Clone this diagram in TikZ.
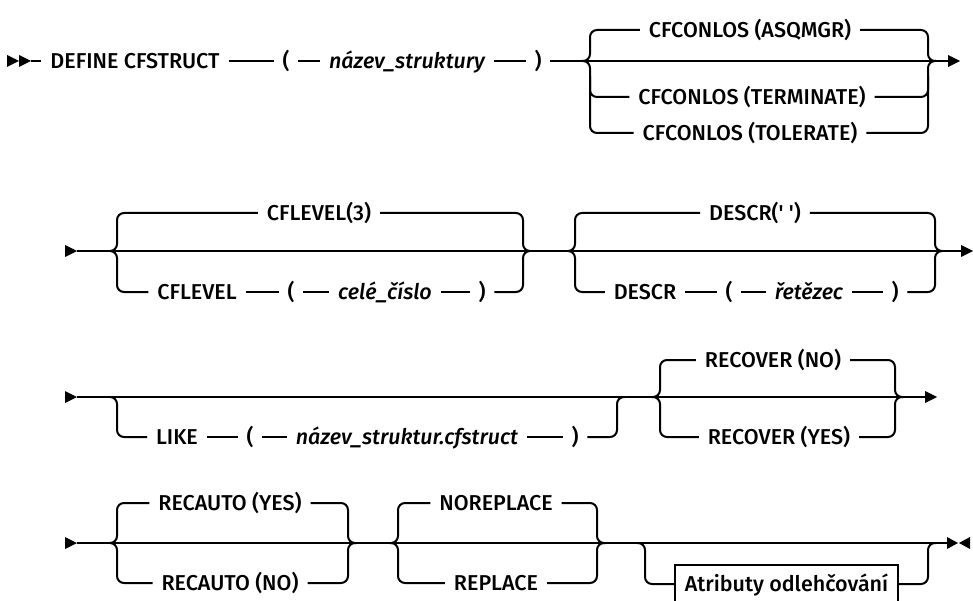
\documentclass[tikz,border=0pt]{standalone}
\usepackage{fontspec}
\setmainfont{Fira Sans}[Ligatures=TeXOff, UprightFont={* Medium}, ItalicFont={* Medium Italic}]
\begin{document}
\begin{tikzpicture}[x=1pt,y=-1pt,
  rr/.style={line width=2pt},
  brc/.style={line width=2pt, rounded corners=7pt},
  tok/.style={inner sep=0pt, outer xsep=9pt, text height=14.8pt, text depth=0pt, font=\fontsize{21.5}{25}\selectfont},
  var/.style={tok, font=\fontsize{21.5}{25}\selectfont\itshape},
  boxn/.style={draw, line width=2pt, inner sep=0pt, outer sep=0pt, text height=14.8pt, text depth=0pt, minimum width=223pt, minimum height=38pt, font=\fontsize{21.5}{25}\selectfont},
]
\useasboundingbox (0,0) rectangle (973,601);

% ---------------- Row 1 ----------------
\coordinate (st1) at (7,61);
\coordinate (st1e) at (31,61);
\fill (st1) ++(0,-6) -- ++(12,6) -- ++(-12,6) -- cycle;
\fill (st1) ++(12,-6) -- ++(12,6) -- ++(-12,6) -- cycle;
\node[tok] (def) at (135,61) {DEFINE CFSTRUCT};
\node[tok] (lp1) at (286,61) {(};
\node[var] (nm1) at (407,61) {název\_struktury};
\node[tok] (rp1) at (538,61) {)};
\node[tok] (a1) at (750,30) {CFCONLOS (ASQMGR)};
\node[tok] (a2) at (752,97) {CFCONLOS (TERMINATE)};
\node[tok] (a3) at (750,133) {CFCONLOS (TOLERATE)};
\coordinate (s1) at (582,61);
\coordinate (v1L) at (590,61);
\coordinate (v1R) at (928,61);
\coordinate (m1) at (936,61);
\coordinate (e1) at (948,61);
\draw[rr] (st1e) -- (def.west) (def.east) -- (lp1.west) (lp1.east) -- (nm1.west)
  (nm1.east) -- (rp1.west) (rp1.east) -- (e1);
\fill (e1) ++(0,-6) -- ++(12,6) -- ++(-12,6) -- cycle;
\draw[brc] (s1) -| (v1L |- a1) -- (a1.west);
\draw[brc] (a1.east) -| (v1R) -- (m1);
\draw[brc] (s1) -| (v1L |- a3) -- (a3.west);
\draw[brc] (a3.east) -| (v1R) -- (m1);
\draw[brc] ([yshift=-15pt]v1L) |- (a2.west);
\draw[brc] (a2.east) -| ([yshift=-15pt]v1R);

% ---------------- Row 2 ----------------
\coordinate (st2) at (65,251);
\coordinate (st2e) at (77,251);
\coordinate (e2) at (961,251);
\fill (st2) ++(0,-6) -- ++(12,6) -- ++(-12,6) -- cycle;
\draw[rr] (st2e) -- (e2);
\fill (e2) ++(0,-6) -- ++(12,6) -- ++(-12,6) -- cycle;
% group A
\coordinate (s2a) at (110,251);
\coordinate (v2aL) at (117,251);
\coordinate (v2aR) at (523,251);
\coordinate (m2a) at (530,251);
\node[tok] (b1) at (319,213) {CFLEVEL(3)};
\node[tok] (c1) at (197,292) {CFLEVEL};
\node[tok] (c2) at (291,292) {(};
\node[var] (c3) at (385,292) {celé\_číslo};
\node[tok] (c4) at (482,292) {)};
\draw[brc] (s2a) -| (v2aL |- b1) -- (b1.west);
\draw[brc] (b1.east) -| (v2aR) -- (m2a);
\draw[brc] (s2a) -| (v2aL |- c1) -- (c1.west);
\draw[rr] (c1.east) -- (c2.west) (c2.east) -- (c3.west) (c3.east) -- (c4.west);
\draw[brc] (c4.east) -| (v2aR) -- (m2a);
% group B
\coordinate (s2b) at (568,251);
\coordinate (v2bL) at (575,251);
\coordinate (v2bR) at (935,251);
\coordinate (m2b) at (942,251);
\node[tok] (d1) at (755,213) {DESCR(' ')};
\node[tok] (dd1) at (645,292) {DESCR};
\node[tok] (dd2) at (729,292) {(};
\node[var] (dd3) at (809,292) {řetězec};
\node[tok] (dd4) at (895,292) {)};
\draw[brc] (s2b) -| (v2bL |- d1) -- (d1.west);
\draw[brc] (d1.east) -| (v2bR) -- (m2b);
\draw[brc] (s2b) -| (v2bL |- dd1) -- (dd1.west);
\draw[rr] (dd1.east) -- (dd2.west) (dd2.east) -- (dd3.west) (dd3.east) -- (dd4.west);
\draw[brc] (dd4.east) -| (v2bR) -- (m2b);

% ---------------- Row 3 ----------------
\coordinate (st3) at (65,397);
\coordinate (st3e) at (77,397);
\coordinate (e3) at (925,397);
\fill (st3) ++(0,-6) -- ++(12,6) -- ++(-12,6) -- cycle;
\draw[rr] (st3e) -- (e3);
\fill (e3) ++(0,-6) -- ++(12,6) -- ++(-12,6) -- cycle;
% optional LIKE
\coordinate (s3a) at (110,397);
\coordinate (v3aL) at (117,397);
\coordinate (v3aR) at (617,397);
\coordinate (m3a) at (625,397);
\node[tok] (f1) at (177,437) {LIKE};
\node[tok] (f2) at (250,437) {(};
\node[var] (f3) at (407,437) {název\_struktur.cfstruct};
\node[tok] (f4) at (575,437) {)};
\draw[brc] (s3a) -| (v3aL |- f1) -- (f1.west);
\draw[rr] (f1.east) -- (f2.west) (f2.east) -- (f3.west) (f3.east) -- (f4.west);
\draw[brc] (f4.east) -| (v3aR) -- (m3a);
% RECOVER
\coordinate (s3b) at (652,397);
\coordinate (v3bL) at (660,397);
\coordinate (v3bR) at (895,397);
\coordinate (m3b) at (903,397);
\node[tok] (g1) at (773,360) {RECOVER (NO)};
\node[tok] (g2) at (779,437) {RECOVER (YES)};
\draw[brc] (s3b) -| (v3bL |- g1) -- (g1.west);
\draw[brc] (g1.east) -| (v3bR) -- (m3b);
\draw[brc] (s3b) -| (v3bL |- g2) -- (g2.west);
\draw[brc] (g2.east) -| (v3bR) -- (m3b);

% ---------------- Row 4 ----------------
\coordinate (st4) at (65,543);
\coordinate (st4e) at (77,543);
\coordinate (e4) at (947,543);
\fill (st4) ++(0,-6) -- ++(12,6) -- ++(-12,6) -- cycle;
\draw[rr] (st4e) -- (e4);
\fill (e4) ++(0,-6) -- ++(11,6) -- ++(-11,6) -- cycle;
\fill (e4) ++(23,-6) -- ++(-11,6) -- ++(11,6) -- cycle;
% RECAUTO
\coordinate (s4a) at (110,543);
\coordinate (v4aL) at (117,543);
\coordinate (v4aR) at (348,543);
\coordinate (m4a) at (356,543);
\node[tok] (h1) at (230,503) {RECAUTO (YES)};
\node[tok] (h2) at (230,583) {RECAUTO (NO)};
\draw[brc] (s4a) -| (v4aL |- h1) -- (h1.west);
\draw[brc] (h1.east) -| (v4aR) -- (m4a);
\draw[brc] (s4a) -| (v4aL |- h2) -- (h2.west);
\draw[brc] (h2.east) -| (v4aR) -- (m4a);
% REPLACE
\coordinate (s4b) at (390,543);
\coordinate (v4bL) at (398,543);
\coordinate (v4bR) at (597,543);
\coordinate (m4b) at (605,543);
\node[tok] (i1) at (496,503) {NOREPLACE};
\node[tok] (i2) at (496,583) {REPLACE};
\draw[brc] (s4b) -| (v4bL |- i1) -- (i1.west);
\draw[brc] (i1.east) -| (v4bR) -- (m4b);
\draw[brc] (s4b) -| (v4bL |- i2) -- (i2.west);
\draw[brc] (i2.east) -| (v4bR) -- (m4b);
% optional box
\coordinate (s4c) at (637,543);
\coordinate (v4cL) at (645,543);
\coordinate (v4cR) at (928,543);
\coordinate (m4c) at (936,543);
\node[boxn] (k1) at (786.5,584) {Atributy odlehčování};
\draw[brc] (s4c) -| (v4cL |- k1) -- (k1.west);
\draw[brc] (k1.east) -| (v4cR) -- (m4c);
\end{tikzpicture}
\end{document}
